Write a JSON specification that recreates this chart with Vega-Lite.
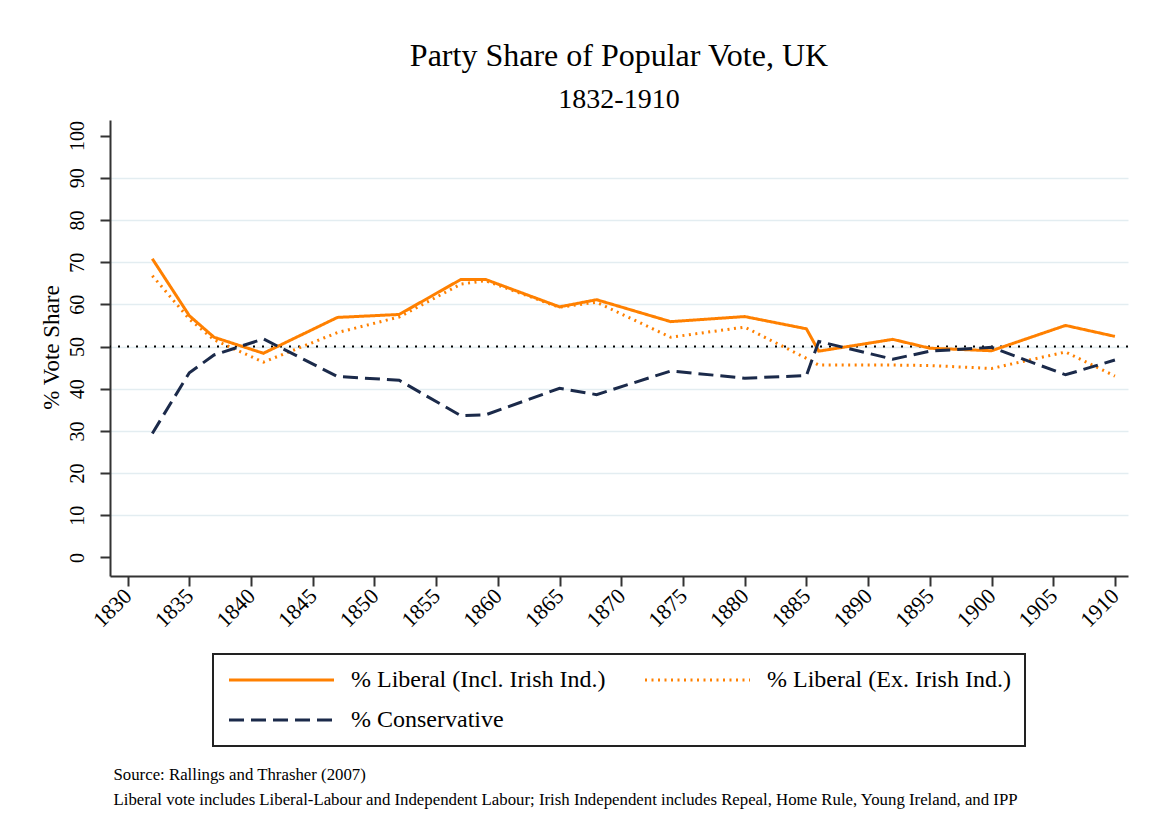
{
  "$schema": "https://vega.github.io/schema/vega-lite/v6.json",
  "width": 1018,
  "height": 456,
  "autosize": {"type": "none"},
  "padding": {"left": 110, "top": 120, "right": 26, "bottom": 263},
  "background": "white",
  "title": {
    "text": "Party Share of Popular Vote, UK",
    "subtitle": "1832-1910",
    "font": "Liberation Serif",
    "fontSize": 32,
    "fontWeight": "normal",
    "color": "black",
    "subtitleFont": "Liberation Serif",
    "subtitleFontSize": 28,
    "subtitleColor": "black",
    "anchor": "middle",
    "offset": 5,
    "subtitlePadding": 13
  },
  "config": {"view": {"stroke": null}},
  "datasets": {
    "votes": [
      {"year": 1832, "series": "% Liberal (Incl. Irish Ind.)", "share": 70.8},
      {"year": 1835, "series": "% Liberal (Incl. Irish Ind.)", "share": 57.3},
      {"year": 1837, "series": "% Liberal (Incl. Irish Ind.)", "share": 52.2},
      {"year": 1841, "series": "% Liberal (Incl. Irish Ind.)", "share": 48.4},
      {"year": 1847, "series": "% Liberal (Incl. Irish Ind.)", "share": 56.9},
      {"year": 1852, "series": "% Liberal (Incl. Irish Ind.)", "share": 57.6},
      {"year": 1857, "series": "% Liberal (Incl. Irish Ind.)", "share": 65.9},
      {"year": 1859, "series": "% Liberal (Incl. Irish Ind.)", "share": 65.9},
      {"year": 1865, "series": "% Liberal (Incl. Irish Ind.)", "share": 59.4},
      {"year": 1868, "series": "% Liberal (Incl. Irish Ind.)", "share": 61.1},
      {"year": 1874, "series": "% Liberal (Incl. Irish Ind.)", "share": 55.9},
      {"year": 1880, "series": "% Liberal (Incl. Irish Ind.)", "share": 57.1},
      {"year": 1885, "series": "% Liberal (Incl. Irish Ind.)", "share": 54.2},
      {"year": 1886, "series": "% Liberal (Incl. Irish Ind.)", "share": 48.9},
      {"year": 1892, "series": "% Liberal (Incl. Irish Ind.)", "share": 51.7},
      {"year": 1895, "series": "% Liberal (Incl. Irish Ind.)", "share": 49.6},
      {"year": 1900, "series": "% Liberal (Incl. Irish Ind.)", "share": 49.0},
      {"year": 1906, "series": "% Liberal (Incl. Irish Ind.)", "share": 55.0},
      {"year": 1910, "series": "% Liberal (Incl. Irish Ind.)", "share": 52.4},
      {"year": 1832, "series": "% Liberal (Ex. Irish Ind.)", "share": 66.8},
      {"year": 1835, "series": "% Liberal (Ex. Irish Ind.)", "share": 56.5},
      {"year": 1837, "series": "% Liberal (Ex. Irish Ind.)", "share": 51.6},
      {"year": 1841, "series": "% Liberal (Ex. Irish Ind.)", "share": 46.3},
      {"year": 1847, "series": "% Liberal (Ex. Irish Ind.)", "share": 53.3},
      {"year": 1852, "series": "% Liberal (Ex. Irish Ind.)", "share": 57.0},
      {"year": 1857, "series": "% Liberal (Ex. Irish Ind.)", "share": 64.8},
      {"year": 1859, "series": "% Liberal (Ex. Irish Ind.)", "share": 65.6},
      {"year": 1865, "series": "% Liberal (Ex. Irish Ind.)", "share": 59.3},
      {"year": 1868, "series": "% Liberal (Ex. Irish Ind.)", "share": 60.5},
      {"year": 1874, "series": "% Liberal (Ex. Irish Ind.)", "share": 52.2},
      {"year": 1880, "series": "% Liberal (Ex. Irish Ind.)", "share": 54.6},
      {"year": 1885, "series": "% Liberal (Ex. Irish Ind.)", "share": 47.2},
      {"year": 1886, "series": "% Liberal (Ex. Irish Ind.)", "share": 45.6},
      {"year": 1892, "series": "% Liberal (Ex. Irish Ind.)", "share": 45.6},
      {"year": 1895, "series": "% Liberal (Ex. Irish Ind.)", "share": 45.5},
      {"year": 1900, "series": "% Liberal (Ex. Irish Ind.)", "share": 44.8},
      {"year": 1906, "series": "% Liberal (Ex. Irish Ind.)", "share": 48.7},
      {"year": 1910, "series": "% Liberal (Ex. Irish Ind.)", "share": 43.0},
      {"year": 1832, "series": "% Conservative", "share": 29.4},
      {"year": 1835, "series": "% Conservative", "share": 43.8},
      {"year": 1837, "series": "% Conservative", "share": 48.0},
      {"year": 1841, "series": "% Conservative", "share": 51.8},
      {"year": 1847, "series": "% Conservative", "share": 42.9},
      {"year": 1852, "series": "% Conservative", "share": 42.0},
      {"year": 1857, "series": "% Conservative", "share": 33.6},
      {"year": 1859, "series": "% Conservative", "share": 33.8},
      {"year": 1865, "series": "% Conservative", "share": 40.1},
      {"year": 1868, "series": "% Conservative", "share": 38.6},
      {"year": 1874, "series": "% Conservative", "share": 44.2},
      {"year": 1880, "series": "% Conservative", "share": 42.5},
      {"year": 1885, "series": "% Conservative", "share": 43.1},
      {"year": 1886, "series": "% Conservative", "share": 51.2},
      {"year": 1892, "series": "% Conservative", "share": 47.0},
      {"year": 1895, "series": "% Conservative", "share": 48.9},
      {"year": 1900, "series": "% Conservative", "share": 49.8},
      {"year": 1906, "series": "% Conservative", "share": 43.3},
      {"year": 1910, "series": "% Conservative", "share": 46.8}
    ],
    "reference": [{"ref": 50}]
  },
  "layer": [
    {
      "data": {"name": "reference"},
      "mark": {"type": "rule", "strokeDash": [2, 7], "strokeWidth": 2, "color": "black"},
      "encoding": {
        "y": {"field": "ref", "type": "quantitative", "title": "% Vote Share"}
      }
    },
    {
      "data": {"name": "votes"},
      "mark": {"type": "line", "strokeWidth": 3},
      "encoding": {
        "x": {
          "field": "year",
          "type": "quantitative",
          "scale": {"domain": [1828.57, 1911.06], "nice": false, "zero": false},
          "axis": {
            "values": [1830, 1835, 1840, 1845, 1850, 1855, 1860, 1865, 1870, 1875, 1880, 1885, 1890, 1895, 1900, 1905, 1910],
            "format": "d",
            "grid": false,
            "labelAngle": -45,
            "labelAlign": "right",
            "labelBaseline": "middle",
            "labelPadding": 6,
            "labelFont": "Liberation Serif",
            "labelFontSize": 22,
            "labelColor": "black",
            "labelFlush": false,
            "labelOverlap": false,
            "tickSize": 10,
            "tickWidth": 2,
            "tickColor": "#333333",
            "domainColor": "#333333",
            "domainWidth": 2,
            "title": ["Source: Rallings and Thrasher (2007)", "Liberal vote includes Liberal-Labour and Independent Labour; Irish Independent includes Repeal, Home Rule, Young Ireland, and IPP"],
            "titleFont": "Liberation Serif",
            "titleFontSize": 16.8,
            "titleFontWeight": "normal",
            "titleColor": "black",
            "titleAnchor": "start",
            "titleAlign": "left",
            "titleBaseline": "alphabetic",
            "titleLineHeight": 25,
            "titleX": 3,
            "titleY": 203
          }
        },
        "y": {
          "field": "share",
          "type": "quantitative",
          "scale": {"domain": [-4.4, 103.7], "nice": false, "zero": false},
          "axis": {
            "values": [0, 10, 20, 30, 40, 50, 60, 70, 80, 90, 100],
            "title": "% Vote Share",
            "titleFont": "Liberation Serif",
            "titleFontSize": 23,
            "titleFontWeight": "normal",
            "titleColor": "black",
            "titleAngle": -90,
            "titleAlign": "center",
            "titleBaseline": "bottom",
            "titleX": -47,
            "titleY": 227,
            "labelFont": "Liberation Serif",
            "labelFontSize": 20,
            "labelColor": "black",
            "labelAngle": -90,
            "labelAlign": "center",
            "labelBaseline": "bottom",
            "labelPadding": 13,
            "labelFlush": false,
            "labelOverlap": false,
            "tickSize": 10,
            "tickWidth": 2,
            "tickColor": "#333333",
            "domainColor": "#333333",
            "domainWidth": 2,
            "grid": true,
            "gridColor": "#e3edf1",
            "gridWidth": 1.5,
            "gridOpacity": {"condition": {"test": "datum.value == 0 || datum.value == 100", "value": 0}, "value": 1}
          }
        },
        "color": {
          "field": "series",
          "type": "nominal",
          "scale": {
            "domain": ["% Liberal (Incl. Irish Ind.)", "% Conservative", "% Liberal (Ex. Irish Ind.)"],
            "range": ["#ff8000", "#1b2a4a", "#ff8000"]
          },
          "legend": {
            "orient": "none",
            "legendX": 103,
            "legendY": 534,
            "columns": 2,
            "title": null,
            "symbolType": "M-1,0H9.5",
            "symbolSize": 400,
            "symbolStrokeWidth": 3,
            "labelFont": "Liberation Serif",
            "labelFontSize": 24,
            "labelColor": "black",
            "labelLimit": 600,
            "labelOffset": 100,
            "columnPadding": 33,
            "rowPadding": 16,
            "padding": 14,
            "strokeColor": "#222222",
            "fillColor": "white",
            "encode": {"legend": {"update": {"strokeWidth": {"value": 2}}}}
          }
        },
        "strokeDash": {
          "field": "series",
          "type": "nominal",
          "scale": {
            "domain": ["% Liberal (Incl. Irish Ind.)", "% Conservative", "% Liberal (Ex. Irish Ind.)"],
            "range": [[1, 0], [15, 7], [2, 4.5]]
          }
        }
      }
    }
  ]
}
